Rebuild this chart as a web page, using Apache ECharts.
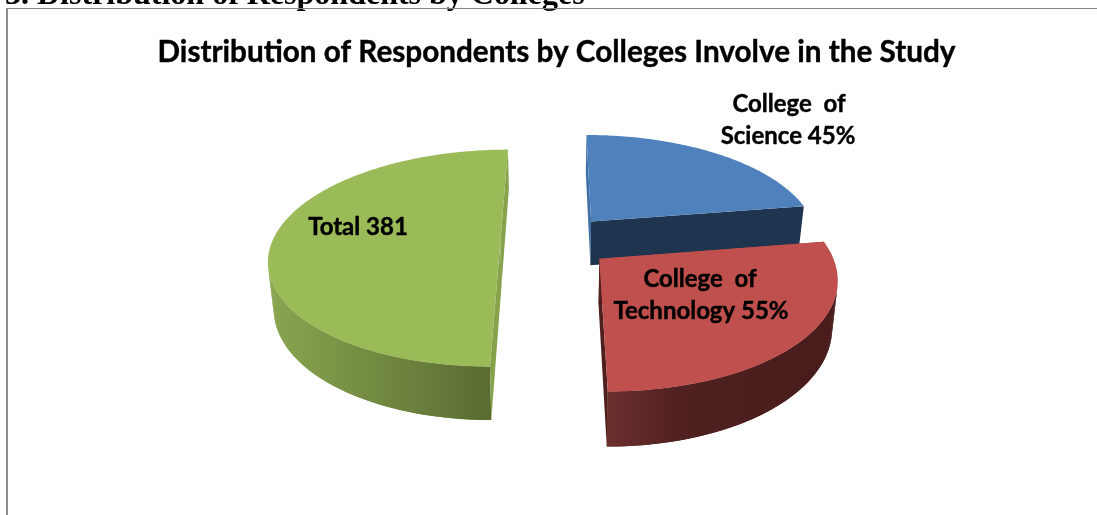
<!DOCTYPE html>
<html>
<head>
<meta charset="utf-8">
<style>html,body{margin:0;padding:0;background:#fff;overflow:hidden}#chart{width:1097px;height:515px}</style>
<script src="https://cdn.jsdelivr.net/npm/echarts@6/dist/echarts.min.js"></script>
</head>
<body>
<div id="chart"></div>
<script>
// Respondents per college, with the grand total as its own slice
const categories = ['College of Science', 'College of Technology', 'Total'];
const sharePercent = [45, 55];
const totalRespondents = 381;
const seriesValues = [
  totalRespondents * sharePercent[0] / 100,
  totalRespondents * sharePercent[1] / 100,
  totalRespondents
];
const sliceLabels = [
  [`College  of`, `Science ${sharePercent[0]}%`],
  [`College  of`, `Technology ${sharePercent[1]}%`],
  [`Total ${totalRespondents}`]
];
const labelAnchors = [
  [[789, 104], [788, 136]],
  [[700, 279], [701, 311]],
  [[358, 227]]
];

// Tilted-disc projection
const disc = { cx: 556, cy: 241, rx: 228, ry: 105.8, persp: 0.1575, explodeU: 0.244, explodeV: 0.25, depth: 45, shrink: 0.98 };
const looks = [
  { top: '#4f81bd', cut: '#1f344f', edge: '#3f6ea6', wall: [[0, '#1f344f'], [1, '#1f344f']] },
  { top: '#c0504d', cut: '#4f1f1e', edge: '#ad4643', wall: [[0, '#6b2f2d'], [0.3, '#502120'], [1, '#471c1b']] },
  { top: '#9bbb59', cut: '#86a34b', edge: '#86a34b', wall: [[0, '#8aa650'], [1, '#56672f']] }
];

const grandTotal = seriesValues.reduce((a, b) => a + b, 0);

function project(u, v, drop) {
  const s = 1 / (1 - disc.persp * v);
  const k = drop ? disc.shrink : 1;
  return [
    disc.cx + disc.rx * u * s * k,
    disc.cy + disc.ry * v * s + (drop ? disc.depth * s : 0)
  ];
}

function renderSlice(params, api) {
  const i = params.dataIndex;
  const before = seriesValues.slice(0, i).reduce((a, b) => a + b, 0);
  const a0 = before / grandTotal * Math.PI * 2;
  const a1 = (before + api.value(0)) / grandTotal * Math.PI * 2;
  const mid = (a0 + a1) / 2;
  const u0 = Math.sin(mid) * disc.explodeU;
  const v0 = -Math.cos(mid) * disc.explodeV;

  const steps = Math.max(8, Math.round((a1 - a0) * 60));
  const rim = [];
  for (let t = 0; t <= steps; t++) {
    const a = a0 + (a1 - a0) * t / steps;
    rim.push([u0 + Math.sin(a), v0 - Math.cos(a)]);
  }
  const look = looks[i];
  const up = rim.map(p => project(p[0], p[1], false));
  const down = rim.map(p => project(p[0], p[1], true));
  const hubUp = project(u0, v0, false);
  const hubDown = project(u0, v0, true);
  const last = rim.length - 1;

  // The curved wall is swept in overlapping quads so its outline stays tangent to both rims;
  // only the stretch of rim facing the viewer gets a wall.
  const xs = up.map(p => p[0]);
  const wallFill = new echarts.graphic.LinearGradient(
    Math.min(...xs), 0, Math.max(...xs), 0,
    look.wall.map(w => ({ offset: w[0], color: w[1] })),
    true
  );
  const children = [];
  for (let t = 0; t < last; t++) {
    const e = Math.min(t + 2, last);
    const dx = up[t + 1][0] - up[t][0];
    const dy = up[t + 1][1] - up[t][1];
    const facing = (down[t][0] - up[t][0]) * dy - (down[t][1] - up[t][1]) * dx;
    if (facing <= 0) continue;
    children.push({
      type: 'polygon',
      shape: { points: [up[t], up[e], down[e], down[t]] },
      style: { fill: wallFill }
    });
  }
  children.push(
    {
      type: 'polygon',
      shape: { points: [hubUp, up[0], down[0], hubDown] },
      style: { fill: look.edge }
    },
    {
      type: 'polygon',
      shape: { points: [hubUp, up[last], down[last], hubDown] },
      style: { fill: look.cut }
    },
    {
      type: 'polygon',
      shape: { points: [hubUp].concat(up) },
      style: { fill: look.top }
    }
  );
  sliceLabels[i].forEach((line, n) => {
    children.push({
      type: 'text',
      style: {
        text: line,
        x: labelAnchors[i][n][0],
        y: labelAnchors[i][n][1],
        align: 'center',
        verticalAlign: 'middle',
        fill: '#000',
        font: 'bold 24px Lato',
        stroke: '#000',
        lineWidth: 0.4
      }
    });
  });
  return { type: 'group', children };
}

const chart = echarts.init(document.getElementById('chart'), null, { renderer: 'canvas' });
chart.setOption({
  animation: false,
  backgroundColor: '#fff',
  title: {
    text: 'Distribution of Respondents by Colleges Involve in the Study',
    left: 551.5,
    top: 32,
    textAlign: 'center',
    textStyle: { fontFamily: 'Lato', fontWeight: 'bold', fontSize: 29.7, color: '#000', textBorderColor: '#000', textBorderWidth: 0.4 }
  },
  graphic: [
    {
      type: 'text',
      left: 5,
      top: -20,
      style: { text: '3. Distribution of Respondents by Colleges', fill: '#000', font: 'bold 32px "Liberation Serif"' }
    },
    {
      type: 'rect',
      shape: { x: 6, y: 8, width: 1091, height: 1 },
      style: { fill: '#858585' }
    },
    {
      type: 'rect',
      shape: { x: 6, y: 8, width: 2, height: 507 },
      style: { fill: '#8f8f8f' }
    }
  ],
  series: [{
    type: 'custom',
    coordinateSystem: 'none',
    renderItem: renderSlice,
    data: seriesValues.map((v, i) => ({ name: categories[i], value: [v] }))
  }]
});
</script>
</body>
</html>
